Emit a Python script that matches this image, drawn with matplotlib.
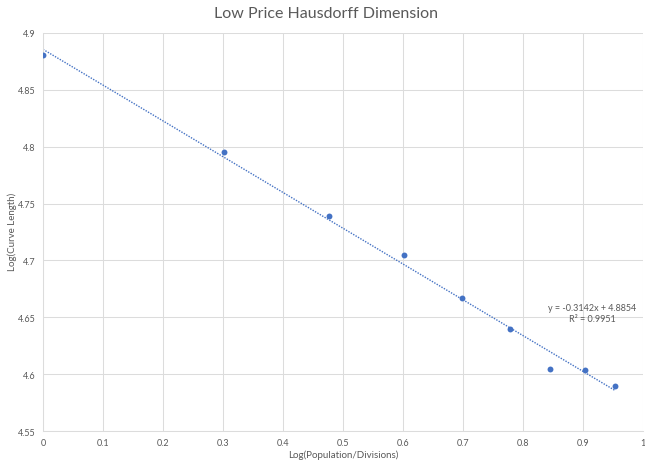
import matplotlib
matplotlib.use("Agg")
import matplotlib.pyplot as plt
import numpy as np

plt.rcParams['font.family'] = ['Lato', 'DejaVu Sans']

# 人口/分区对数 与 曲线长度对数
x_vals = [0.0, 0.301, 0.477, 0.602, 0.699, 0.778, 0.845, 0.903, 0.954]
y_vals = [4.880, 4.795, 4.739, 4.705, 4.667, 4.640, 4.605, 4.604, 4.590]

# 线性趋势线参数
slope = -0.3142
intercept = 4.8854
r2 = 0.9951

x_ticks = [0, 0.1, 0.2, 0.3, 0.4, 0.5, 0.6, 0.7, 0.8, 0.9, 1]
y_ticks = [4.55, 4.6, 4.65, 4.7, 4.75, 4.8, 4.85, 4.9]

blue = "#4472C4"
grid_c = "#dcdcdc"
text_c = "#595959"

fig = plt.figure(figsize=(6.45, 4.64), dpi=100)
ax = fig.add_axes([43 / 645, 1 - 432.3 / 464, 600 / 645, (432.3 - 33.7) / 464])

ax.scatter(x_vals, y_vals, s=18, color=blue, zorder=3, linewidths=0)

tx = np.array([min(x_vals), max(x_vals)])
ax.plot(tx, slope * tx + intercept, color=blue, linestyle=(0, (1, 1)),
        linewidth=1.0, zorder=2)

ax.set_xlim(0, 1)
ax.set_ylim(4.55, 4.9)
ax.set_xticks(x_ticks)
ax.set_yticks(y_ticks)
ax.set_xticklabels([f"{t:g}" for t in x_ticks])
ax.set_yticklabels([f"{t:g}" for t in y_ticks])
ax.tick_params(length=0, labelsize=6.5, colors=text_c)
ax.tick_params(axis='x', pad=5)
ax.tick_params(axis='y', pad=5.5)
ax.grid(True, color=grid_c, linewidth=0.75)
ax.set_axisbelow(True)
for side in ['top', 'right']:
    ax.spines[side].set_visible(False)
for side in ['left', 'bottom']:
    ax.spines[side].set_color(grid_c)
    ax.spines[side].set_linewidth(0.75)

# 坐标轴标题
fig.text(343 / 645, 1 - 455 / 464, "Log(Population/Divisions)", fontsize=7,
         color=text_c, ha='center', va='center')
fig.text(12 / 645, 1 - 232 / 464, "Log(Curve Length)", fontsize=7,
         color=text_c, ha='center', va='center', rotation=90)

ax.text(0.915, 4.654, f"y = {slope}x + {intercept}\nR² = {r2}",
        fontsize=6.5, color=text_c, ha='center', va='center', linespacing=1.2)

fig.text(326 / 645, 1 - 14 / 464, "Low Price Hausdorff Dimension", fontsize=11.5,
         color=text_c, ha='center', va='center')

fig.savefig("out.png", dpi=100)
